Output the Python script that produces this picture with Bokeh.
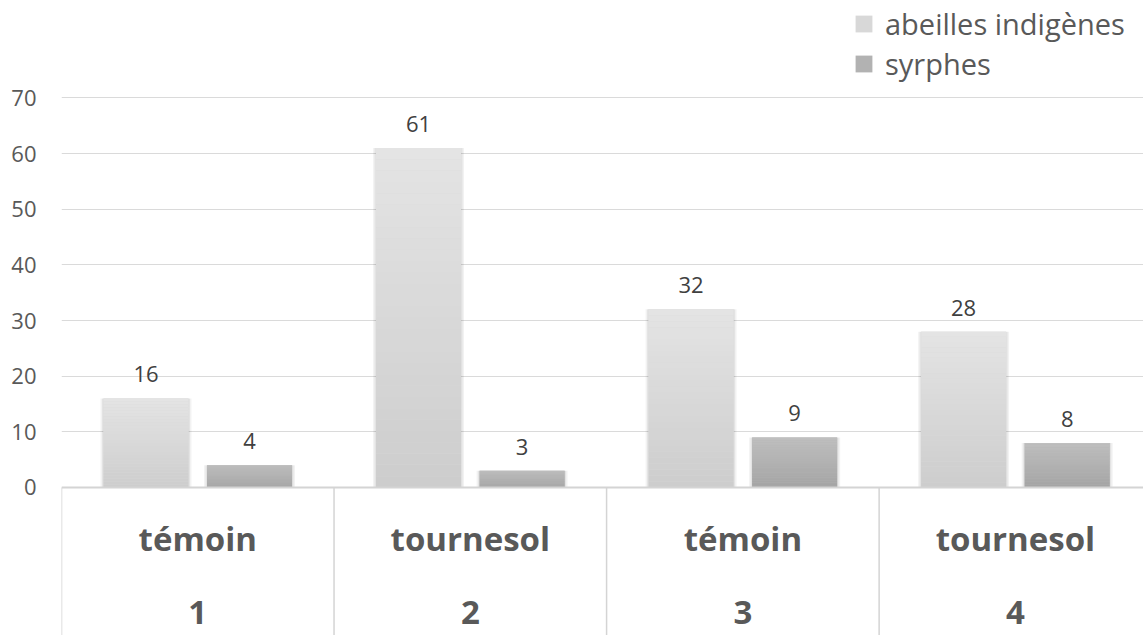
from bokeh.plotting import figure
from bokeh.models import Range1d, FixedTicker, Legend, LegendItem
from bokeh.core.properties import value
from bokeh.embed import file_html
from bokeh.resources import INLINE

# --- data -----------------------------------------------------------------
sites = ["1", "2", "3", "4"]
treatments = ["témoin", "tournesol", "témoin", "tournesol"]
abeilles = [16, 61, 32, 28]
syrphes = [4, 3, 9, 8]
series_names = ["abeilles indigènes", "syrphes"]
y_ticks = [0, 10, 20, 30, 40, 50, 60, 70]

FONT = value("Open Sans")
GRID = "#dadada"

# bar colours: (bottom, top) of the vertical gradient
abeilles_grad = ((0xcd, 0xcd, 0xcd), (0xe4, 0xe4, 0xe4))
syrphes_grad = ((0xa4, 0xa4, 0xa4), (0xbf, 0xbf, 0xbf))

p = figure(width=1143, height=635, output_backend="svg", toolbar_location=None,
           x_axis_location=None, min_border_left=61, min_border_right=0,
           min_border_top=0, min_border_bottom=0)
p.x_range = Range1d(0, 3.97)
p.y_range = Range1d(-26.6, 87.5)
p.outline_line_color = None
p.background_fill_color = "white"
p.border_fill_color = "white"

# y axis: labels only
ax = p.yaxis[0]
ax.ticker = FixedTicker(ticks=y_ticks)
ax.axis_line_color = None
ax.major_tick_line_color = None
ax.minor_tick_line_color = None
ax.major_tick_out = 0
ax.major_tick_in = 0
ax.major_label_standoff = 25
ax.major_label_text_font = "Open Sans"
ax.major_label_text_font_size = "22px"
ax.major_label_text_color = "#595959"

p.xgrid.visible = False
p.ygrid.ticker = FixedTicker(ticks=y_ticks[1:])
p.ygrid.grid_line_color = GRID
p.ygrid.grid_line_width = 1

centers = [i + 0.5 for i in range(len(sites))]
OFF = 0.19
W = 0.312


def hexcol(c):
    return "#%02x%02x%02x" % tuple(int(round(v)) for v in c)


def draw_series(vals, dx, grad):
    xs = [c + dx for c in centers]
    # soft side shadow
    p.vbar(x=xs, top=vals, width=W + 0.022, fill_color="black", fill_alpha=0.05, line_color=None)
    p.vbar(x=xs, top=vals, width=W + 0.011, fill_color="black", fill_alpha=0.06, line_color=None)
    base = p.vbar(x=xs, top=vals, width=W, fill_color=hexcol([(a + b) / 2 for a, b in zip(*grad)]),
                  line_color=None)
    # gradient slices, darker at the bottom
    n = 30
    lefts, rights, bots, tops, cols = [], [], [], [], []
    for x, v in zip(xs, vals):
        for k in range(n):
            t = (k + 0.5) / n
            lefts.append(x - W / 2)
            rights.append(x + W / 2)
            bots.append(v * k / n)
            tops.append(v * (k + 1) / n)
            cols.append(hexcol([a + (b - a) * t for a, b in zip(*grad)]))
    p.quad(left=lefts, right=rights, bottom=bots, top=tops, fill_color=cols, line_color=None)
    # value labels
    p.text(x=xs, y=vals, text=[str(v) for v in vals], y_offset=-24,
           text_align="center", text_baseline="middle", text_font=FONT,
           text_font_size="22px", text_color="#404040")
    return base


r_ab = draw_series(abeilles, -OFF, abeilles_grad)
r_sy = draw_series(syrphes, OFF, syrphes_grad)

# category table below the axis
p.segment(x0=[0], y0=[0], x1=[3.97], y1=[0], line_color="#d4d4d4", line_width=2)
p.segment(x0=[0, 1, 2, 3], y0=[0] * 4, x1=[0, 1, 2, 3], y1=[-26.6] * 4,
          line_color="#d4d4d4", line_width=1.5)
p.text(x=centers, y=[0] * 4, text=treatments, y_offset=51, text_align="center",
       text_baseline="alphabetic", text_font=FONT, text_font_style="bold",
       text_font_size="33px", text_color="#595959")
p.text(x=centers, y=[0] * 4, text=sites, y_offset=125, text_align="center",
       text_baseline="alphabetic", text_font=FONT, text_font_style="bold",
       text_font_size="33px", text_color="#595959")

legend = Legend(items=[LegendItem(label=series_names[0], renderers=[r_ab]),
                       LegendItem(label=series_names[1], renderers=[r_sy])],
                location=(792, 552), orientation="vertical",
                glyph_width=21, glyph_height=21, label_height=40,
                label_standoff=11, spacing=0, padding=0, margin=0,
                label_text_font="Open Sans", label_text_font_size="29px",
                label_text_color="#595959", border_line_color=None,
                background_fill_alpha=0)
p.add_layout(legend, "center")

open("out.html", "w").write(file_html(p, INLINE))
